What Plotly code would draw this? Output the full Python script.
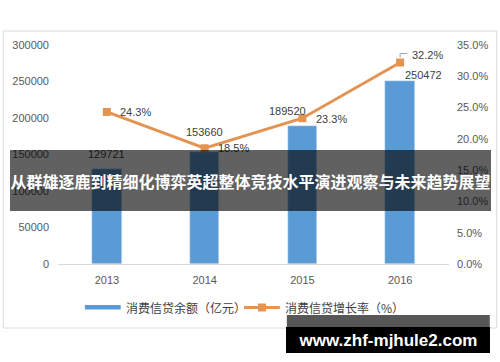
import plotly.graph_objects as go

# ---- data ----
years = ["2013", "2014", "2015", "2016"]
balance = [129721, 153660, 189520, 250472]          # 消费信贷余额（亿元）
growth = [24.3, 18.5, 23.3, 32.2]                   # 消费信贷增长率（%）
bar_name = "消费信贷余额（亿元）"
line_name = "消费信贷增长率（%）"
banner_text = "从群雄逐鹿到精细化博弈英超整体竞技水平演进观察与未来趋势展望"
watermark_text = "www.zhf-mjhule2.com"

# ---- layout geometry (pixels) ----
W, H = 500, 362
PL, PR, PT, PB = 57, 450, 45, 264


def px(x):
    return (x - PL) / (PR - PL)


def py(y):
    return (PB - y) / (PB - PT)


FONT = "Liberation Sans, Arial, Noto Sans CJK SC, sans-serif"
CJK = "Noto Sans CJK SC, sans-serif"
TXT = "#404040"
BAR_C = "#5B9BD5"
LINE_C = "#E39452"

fig = go.Figure()
fig.add_trace(go.Bar(x=years, y=balance, marker_color=BAR_C, width=0.3,
                     showlegend=False, hoverinfo="skip"))
fig.add_trace(go.Scatter(x=years, y=growth, yaxis="y2", mode="lines+markers",
                         line=dict(color=LINE_C, width=3),
                         marker=dict(symbol="square", size=8, color=LINE_C),
                         showlegend=False, hoverinfo="skip"))

annotations = []
bar_offsets = [(0, 15), (0, 20), (-15, 15), (23, 6)]
for i, v in enumerate(balance):
    dx, dy = bar_offsets[i]
    annotations.append(dict(x=i, y=v, xref="x", yref="y", text=str(v),
                            showarrow=False, xshift=dx, yshift=dy,
                            font=dict(family=FONT, size=11, color=TXT)))
line_offsets = [(29, 0), (29, 0), (29, -1), (27, 8)]
for i, g in enumerate(growth):
    dx, dy = line_offsets[i]
    annotations.append(dict(x=i, y=g, xref="x", yref="y2", text=f"{g:.1f}%",
                            showarrow=False, xshift=dx, yshift=dy,
                            font=dict(family=FONT, size=11, color=TXT)))

# legend texts
annotations.append(dict(x=px(123), y=py(307.5), xref="paper", yref="paper",
                        xanchor="left", yanchor="middle", showarrow=False,
                        text=bar_name, font=dict(family=CJK, size=12, color=TXT)))
annotations.append(dict(x=px(283), y=py(307.5), xref="paper", yref="paper",
                        xanchor="left", yanchor="middle", showarrow=False,
                        text=line_name, font=dict(family=CJK, size=12, color=TXT)))

# banner overlay (drawn above everything)
annotations.append(dict(x=px(250.5), y=py(180.5), xref="paper", yref="paper",
                        xanchor="center", yanchor="middle", showarrow=False,
                        width=481, height=61, bgcolor="rgba(0,0,0,0.62)",
                        borderpad=0, borderwidth=0,
                        text="<b>" + banner_text + "</b>",
                        font=dict(family=CJK, size=16, color="white")))
# watermark
annotations.append(dict(x=px(389), y=py(340), xref="paper", yref="paper",
                        xanchor="center", yanchor="middle", showarrow=False,
                        width=204, height=26, bgcolor="black",
                        borderpad=0, borderwidth=0,
                        text="<b>" + watermark_text + "</b>",
                        font=dict(family=FONT, size=17, color="white")))

last = len(years) - 1
shapes = [
    # chart border
    dict(type="rect", xref="paper", yref="paper", x0=px(2), x1=px(498),
         y0=py(328), y1=py(31), line=dict(color="#d9d9d9", width=1),
         fillcolor="rgba(0,0,0,0)", layer="below"),
    # legend: bar swatch
    dict(type="rect", xref="paper", yref="paper", x0=px(84), x1=px(120),
         y0=py(309.5), y1=py(305), line=dict(width=0), fillcolor=BAR_C),
    # legend: line swatch
    dict(type="line", xref="paper", yref="paper", x0=px(244), x1=px(280),
         y0=py(307.5), y1=py(307.5), line=dict(color=LINE_C, width=3)),
    dict(type="rect", xref="paper", yref="paper", x0=px(258), x1=px(266),
         y0=py(311.5), y1=py(303.5), line=dict(width=0), fillcolor=LINE_C),
    # leader line for last growth label
    dict(type="line", xref="x", yref="y2", xsizemode="pixel", ysizemode="pixel",
         xanchor=last, yanchor=growth[last], x0=0, x1=0, y0=5, y1=9,
         line=dict(color="#a6a6a6", width=1)),
    dict(type="line", xref="x", yref="y2", xsizemode="pixel", ysizemode="pixel",
         xanchor=last, yanchor=growth[last], x0=0, x1=7, y0=9, y1=9,
         line=dict(color="#a6a6a6", width=1)),
    # watermark upper gray part
    dict(type="rect", xref="paper", yref="paper", x0=px(287), x1=px(491),
         y0=py(327), y1=py(315), line=dict(width=0),
         fillcolor="rgba(0,0,0,0.66)", layer="above"),
]

fig.update_layout(
    width=W, height=H,
    margin=dict(l=PL, r=W - PR, t=PT, b=H - PB, pad=0),
    paper_bgcolor="white", plot_bgcolor="white",
    font=dict(family=FONT, size=11, color="#595959"),
    bargap=0,
    xaxis=dict(type="category", categoryorder="array", categoryarray=years,
               range=[-0.5, len(years) - 0.5],
               showline=True, linecolor="#d9d9d9", linewidth=1,
               showgrid=False, ticks="", ticklabelstandoff=6,
               tickfont=dict(size=11, color="#595959")),
    yaxis=dict(range=[0, 300000], dtick=50000, tickformat="d", showgrid=False,
               zeroline=False, showline=False, ticks="", ticklabelstandoff=8,
               tickfont=dict(size=11, color="#595959")),
    yaxis2=dict(range=[0, 35], dtick=5, tickformat=".1f", ticksuffix="%",
                overlaying="y", side="right", showgrid=False, zeroline=False,
                showline=False, ticks="", ticklabelstandoff=7,
                tickfont=dict(size=11, color="#595959")),
    annotations=annotations,
    shapes=shapes,
    showlegend=False,
)

fig.write_html("out.html")
